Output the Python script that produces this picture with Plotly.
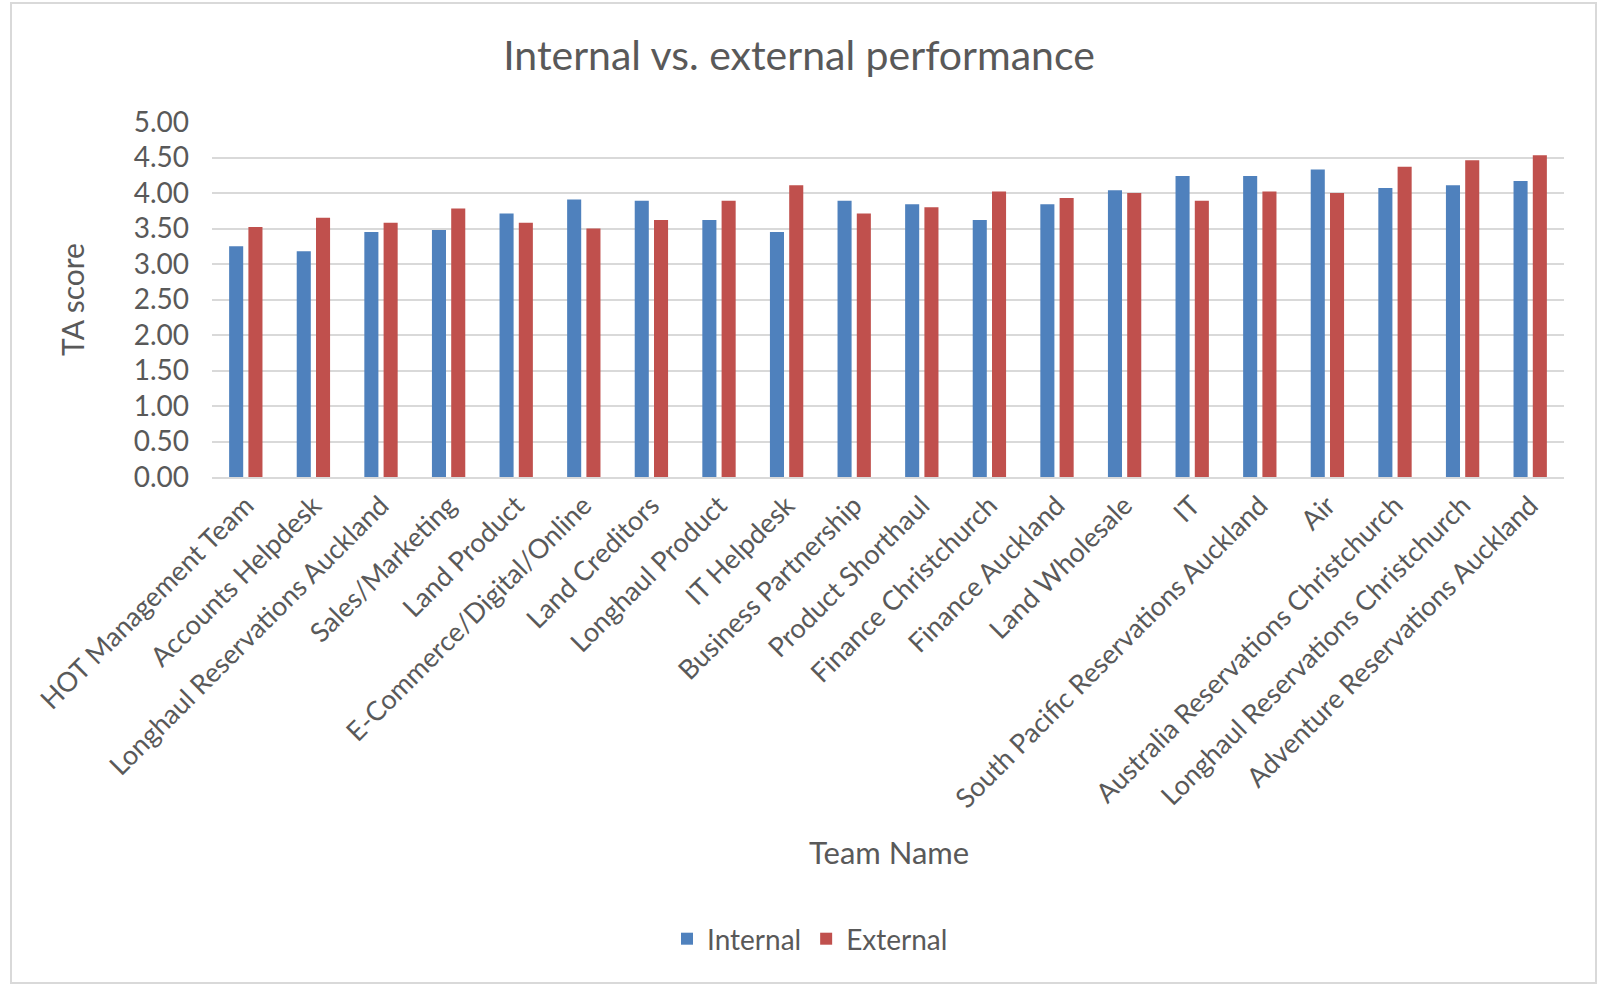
import plotly.graph_objects as go

teams = [
    "HOT Management Team", "Accounts Helpdesk", "Longhaul Reservations Auckland",
    "Sales/Marketing", "Land Product", "E-Commerce/Digital/Online", "Land Creditors",
    "Longhaul Product", "IT Helpdesk", "Business Partnership", "Product Shorthaul",
    "Finance Christchurch", "Finance Auckland", "Land Wholesale", "IT",
    "South Pacific Reservations Auckland", "Air", "Australia Reservations Christchurch",
    "Longhaul Reservations Christchurch", "Adventure Reservations Auckland",
]
internal = [3.25, 3.18, 3.45, 3.48, 3.71, 3.91, 3.89, 3.62, 3.45, 3.89,
            3.84, 3.62, 3.84, 4.04, 4.24, 4.24, 4.33, 4.07, 4.11, 4.17]
external = [3.52, 3.65, 3.58, 3.78, 3.58, 3.50, 3.62, 3.89, 4.11, 3.71,
            3.80, 4.02, 3.93, 4.00, 3.89, 4.02, 4.00, 4.37, 4.46, 4.53]
y_ticks = [0, 0.5, 1, 1.5, 2, 2.5, 3, 3.5, 4, 4.5, 5]

W, H = 1598, 987
L, R, T, B = 212, 1564, 122, 477
pw, ph = R - L, B - T

font = "Lato, 'Open Sans', sans-serif"
grey = "#595959"

fig = go.Figure()
fig.add_trace(go.Bar(name="Internal", x=teams, y=internal, marker_color="#4f81bd",
                     marker_line_width=0))
fig.add_trace(go.Bar(name="External", x=teams, y=external, marker_color="#c0504d",
                     marker_line_width=0))

def px_x(x):
    return (x - L) / pw

def px_y(y):
    return (B - y) / ph

fig.update_layout(
    width=W, height=H,
    margin=dict(l=L, r=W - R, t=T, b=H - B, autoexpand=False),
    paper_bgcolor="white", plot_bgcolor="white",
    barmode="group", bargap=0.43, bargroupgap=0.27,
    font=dict(family=font, color=grey, size=24),
    title=dict(text="Internal vs. external performance", x=0.5, xanchor="center",
               y=1 - 56 / H, yanchor="middle",
               font=dict(family=font, size=41, color=grey)),
    showlegend=True,
    legend=dict(orientation="h", x=px_x(810), xanchor="center",
                y=px_y(939), yanchor="middle", font=dict(size=28, color=grey),
                itemwidth=30, traceorder="normal"),
    xaxis=dict(tickangle=-45, tickfont=dict(size=27, color=grey), showgrid=False,
               showline=True, linecolor="#d9d9d9", linewidth=2, ticks=""),
    yaxis=dict(range=[0, 5], tickvals=y_ticks, tickformat=".2f",
               showgrid=True, gridcolor="#d9d9d9", gridwidth=2, zeroline=False,
               tickfont=dict(size=28, color=grey), ticks="", ticklabelstandoff=22,
               title=dict(text="TA score", font=dict(size=30, color=grey), standoff=40)),
    annotations=[dict(text="Team Name", xref="paper", yref="paper",
                      x=px_x(889), y=px_y(852), xanchor="center", yanchor="middle",
                      showarrow=False, font=dict(size=31, color=grey))],
    shapes=[dict(type="rect", xref="paper", yref="paper",
                 x0=px_x(11), x1=px_x(1596), y0=px_y(983), y1=px_y(3),
                 line=dict(color="#d9d9d9", width=2), fillcolor="rgba(0,0,0,0)",
                 layer="below")],
)

fig.write_html("out.html")
